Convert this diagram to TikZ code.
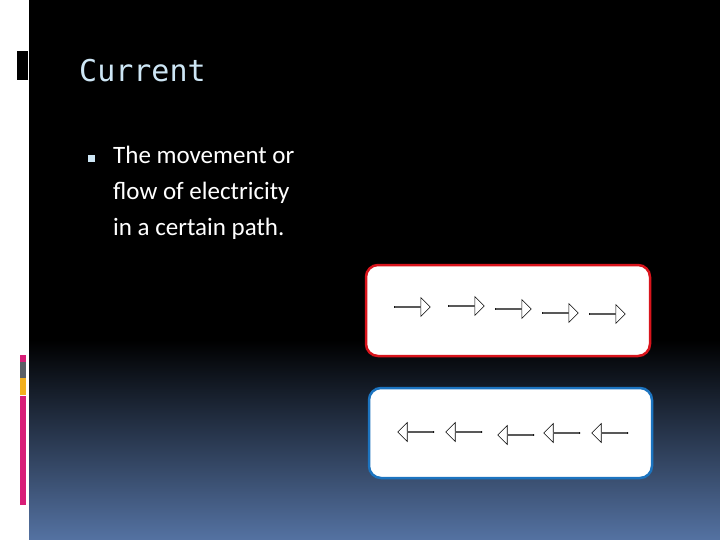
\documentclass[tikz,border=0pt]{standalone}
\usepackage{fontspec}
\setmainfont{Carlito}
\newfontfamily\titlefont{DejaVu Sans Mono}
\usetikzlibrary{shapes.arrows}
\definecolor{title-blue}{HTML}{CDE6F5}
\definecolor{bottom-blue}{HTML}{5472A2}
\definecolor{bar-pink}{HTML}{D81E78}
\definecolor{bar-grey}{HTML}{5A5F66}
\definecolor{bar-yellow}{HTML}{F2B01E}
\definecolor{box-red}{HTML}{D9141C}
\definecolor{box-blue}{HTML}{1C74C0}
\tikzset{
    flowarrow/.style={single arrow, draw=black, fill=white, line width=0.6pt,
        minimum height=36pt, minimum width=19pt, single arrow head extend=4.5pt,
        inner sep=0pt},
    pathbox/.style={fill=white, line width=2.5pt, rounded corners=12pt}
}
\begin{document}
\begin{tikzpicture}[x=1pt,y=-1pt]
    \useasboundingbox (0,0) rectangle (720,540);
    \fill[white] (0,0) rectangle (720,540);
    \fill[black] (29,0) rectangle (720,340);
    \shade[top color=black, bottom color=bottom-blue] (29,340) rectangle (720,540);

    % side marks
    \fill[black] (17,51) rectangle (28,80);
    \fill[bar-pink] (20,355) rectangle (26,362);
    \fill[bar-grey] (20,362) rectangle (26,378);
    \fill[bar-yellow] (20,378) rectangle (26,395);
    \fill[bar-pink] (20,396) rectangle (26,505);

    \node[anchor=base west, text=title-blue, font=\titlefont\fontsize{30}{36}\selectfont, inner sep=0pt]
        (title) at (79,82) {Current};

    \fill[title-blue] (88,155) rectangle (95,162);
    \node[anchor=north west, text=white, align=left, font=\fontsize{25}{36}\selectfont, inner sep=0pt]
        (body) at (113,146) {The movement or\\flow of electricity\\in a certain path.};

    % paths
    \draw[pathbox, draw=box-red] (366,265) rectangle (650,356);
    \draw[pathbox, draw=box-blue] (369,388) rectangle (652,478);

    \node[flowarrow] (right-1) at (412,307) {};
    \node[flowarrow] (right-2) at (466,306) {};
    \node[flowarrow] (right-3) at (513,309) {};
    \node[flowarrow] (right-4) at (560,313) {};
    \node[flowarrow] (right-5) at (607,314) {};

    \node[flowarrow, shape border rotate=180] (left-1) at (416,432) {};
    \node[flowarrow, shape border rotate=180] (left-2) at (464,432) {};
    \node[flowarrow, shape border rotate=180] (left-3) at (516,435) {};
    \node[flowarrow, shape border rotate=180] (left-4) at (562,433) {};
    \node[flowarrow, shape border rotate=180] (left-5) at (610,433) {};
\end{tikzpicture}
\end{document}
